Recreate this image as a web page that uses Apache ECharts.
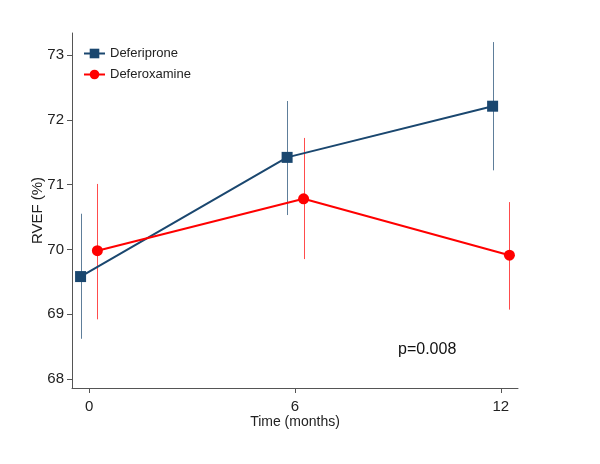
<!DOCTYPE html>
<html>
<head>
<meta charset="utf-8">
<script src="https://cdn.jsdelivr.net/npm/echarts@6/dist/echarts.min.js"></script>
<style>html,body{margin:0;padding:0;background:#fff}#c{width:600px;height:464px}</style>
</head>
<body>
<div id="c"></div>
<script>
const timeTicks = [0, 6, 12];
const yTicks = [68, 69, 70, 71, 72, 73];
const deferiproneX = [-0.25, 5.77, 11.76];
const deferiproneMean = [69.58, 71.42, 72.21];
const deferiproneLow = [68.62, 70.53, 71.22];
const deferiproneHigh = [70.55, 72.29, 73.20];
const deferoxamineX = [0.24, 6.25, 12.25];
const deferoxamineMean = [69.98, 70.78, 69.91];
const deferoxamineLow = [68.92, 69.85, 69.07];
const deferoxamineHigh = [71.01, 71.72, 70.73];

const blue = '#1a476f';
const red = '#ff0000';
const font = 'Liberation Sans, Arial, sans-serif';

function errSeries(xs, lo, hi, color) {
  return {
    type: 'custom',
    silent: true,
    z: 1,
    data: xs.map((x, i) => [x, lo[i], hi[i]]),
    renderItem: function (params, api) {
      const a = api.coord([api.value(0), api.value(1)]);
      const b = api.coord([api.value(0), api.value(2)]);
      return {
        type: 'line',
        shape: { x1: Math.round(a[0]) + 0.5, y1: a[1], x2: Math.round(b[0]) + 0.5, y2: b[1] },
        style: { stroke: color, lineWidth: 1, opacity: 0.7 }
      };
    }
  };
}

const chart = echarts.init(document.getElementById('c'), null, { renderer: 'canvas' });
chart.setOption({
  animation: false,
  backgroundColor: '#fff',
  grid: { left: 72, right: 82, top: 33, bottom: 76 },
  legend: {
    orient: 'vertical',
    left: 78,
    top: 42,
    itemGap: 8,
    itemWidth: 21,
    itemHeight: 12,
    textStyle: { fontFamily: font, fontSize: 13, color: '#222' },
    data: ['Deferiprone', 'Deferoxamine']
  },
  xAxis: {
    type: 'value',
    min: -0.5,
    max: 12.5,
    name: 'Time (months)',
    nameLocation: 'middle',
    nameGap: 27,
    nameMoveOverlap: false,
    nameTextStyle: { fontFamily: font, fontSize: 14, color: '#222' },
    axisLine: { onZero: false, lineStyle: { color: '#555', width: 1 } },
    axisTick: { show: true, length: 5, customValues: timeTicks, lineStyle: { color: '#555' } },
    axisLabel: { customValues: timeTicks, fontFamily: font, fontSize: 15, color: '#222', margin: 11 },
    splitLine: { show: false }
  },
  yAxis: {
    type: 'value',
    min: 67.86,
    max: 73.34,
    name: 'RVEF (%)',
    nameLocation: 'middle',
    nameGap: 27,
    nameMoveOverlap: false,
    nameRotate: 90,
    nameTextStyle: { fontFamily: font, fontSize: 15, color: '#222' },
    axisLine: { show: true, onZero: false, lineStyle: { color: '#555', width: 1 } },
    axisTick: { show: true, length: 5, customValues: yTicks, lineStyle: { color: '#555' } },
    axisLabel: { customValues: yTicks, fontFamily: font, fontSize: 15, color: '#222', margin: 8 },
    splitLine: { show: false }
  },
  series: [
    errSeries(deferiproneX, deferiproneLow, deferiproneHigh, blue),
    errSeries(deferoxamineX, deferoxamineLow, deferoxamineHigh, red),
    {
      name: 'Deferiprone',
      type: 'line',
      z: 3,
      data: deferiproneX.map((x, i) => [x, deferiproneMean[i]]),
      symbol: 'rect',
      symbolSize: 11,
      lineStyle: { color: blue, width: 2 },
      itemStyle: { color: blue }
    },
    {
      name: 'Deferoxamine',
      type: 'line',
      z: 3,
      data: deferoxamineX.map((x, i) => [x, deferoxamineMean[i]]),
      symbol: 'circle',
      symbolSize: 11,
      lineStyle: { color: red, width: 2 },
      itemStyle: { color: red }
    }
  ],
  graphic: [{
    type: 'text',
    left: 398,
    top: 342,
    style: { text: 'p=0.008', font: '16px ' + font, fill: '#111' }
  }]
});
</script>
</body>
</html>
